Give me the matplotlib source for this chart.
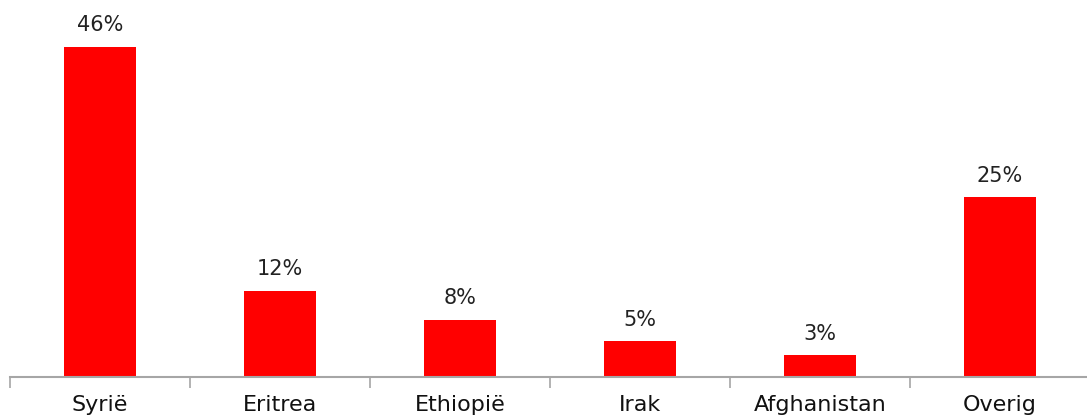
import matplotlib.pyplot as plt
import numpy as np

landen = ['Syrië', 'Eritrea', 'Ethiopië', 'Irak', 'Afghanistan', 'Overig']
aandeel = [46, 12, 8, 5, 3, 25]

rood = '#ff0000'
grijs = '#a6a6a6'

fig = plt.figure(figsize=(10.87, 4.18), dpi=100)
ax = fig.add_axes([10 / 1087, 41 / 418, 1080 / 1087, 377 / 418])

x = np.arange(len(landen))
ax.bar(x, aandeel, width=0.4, color=rood)

for xi, v in zip(x, aandeel):
    ax.text(xi, v + 1.6, f'{v}%', ha='center', va='bottom', fontsize=15, color='#222222')

ax.set_xlim(-0.5, len(landen) - 0.5)
ax.set_ylim(0, 52.5)

for s in ['top', 'right', 'left']:
    ax.spines[s].set_visible(False)
ax.spines['bottom'].set_color(grijs)
ax.spines['bottom'].set_linewidth(1.5)
ax.set_yticks([])

ax.set_xticks(x)
ax.set_xticklabels(landen, fontsize=16, color='#111111')
ax.tick_params(axis='x', which='major', length=0, pad=13)
ax.set_xticks(np.arange(len(landen) + 1) - 0.5, minor=True)
ax.tick_params(axis='x', which='minor', length=8, width=1.2, color=grijs)

fig.savefig('out.png', dpi=100)
